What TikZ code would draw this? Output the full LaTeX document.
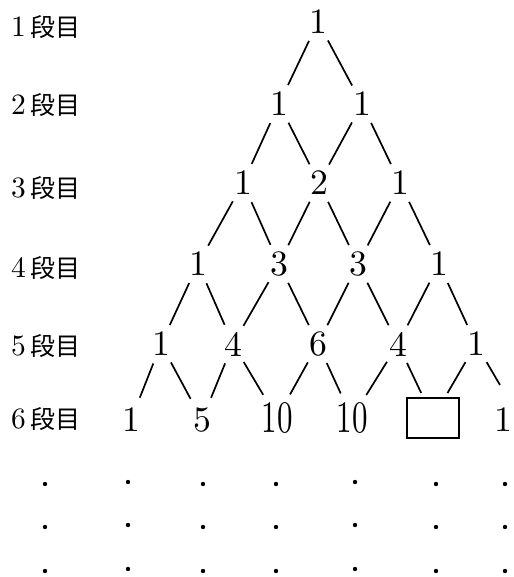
\documentclass[tikz,border=0pt]{standalone}
\usepackage{fontspec}
\newfontfamily\jpfont{Noto Sans CJK JP}
\newcommand{\bignumtext}[1]{\scalebox{3.57}{\fontsize{10}{10}\selectfont #1}}
\newcommand{\tennumtext}[1]{\scalebox{3.1}[4.5]{\fontsize{10}{10}\selectfont #1}}
\newcommand{\lbldigit}[1]{\scalebox{2.95}{\fontsize{10}{10}\selectfont #1}}
\begin{document}
\begin{tikzpicture}[x=1pt,y=-1pt,
  num/.style={circle,inner sep=0pt,outer sep=0pt,minimum size=42pt},
  lownum/.style={num,minimum size=48pt},
  bignum/.style={num,minimum size=54pt},
  ansbox/.style={draw,line width=1.6pt,rectangle,minimum width=52pt,minimum height=40pt,inner sep=0pt,outer sep=5pt},
  link/.style={line width=1.7pt},
  lbl/.style={anchor=base west,inner sep=0pt},
  dotmark/.style={fill=black}]
\useasboundingbox (0,0) rectangle (513,577);
% row labels
\foreach \n/\y in {1/37,2/115,3/197,4/277,5/355,6/428}{
  \node[lbl] (lab\n) at (11,\y) {\lbldigit{\n}\hspace{5pt}\jpfont\fontsize{25}{25}\selectfont 段目};
}
% numbers
\node[num] (r1) at (318,22) {\bignumtext{1}};
\node[num] (r2a) at (279,104) {\bignumtext{1}};
\node[num] (r2b) at (362,104) {\bignumtext{1}};
\node[num] (r3a) at (243,183) {\bignumtext{1}};
\node[num] (r3b) at (319,183) {\bignumtext{2}};
\node[num] (r3c) at (400,183) {\bignumtext{1}};
\node[num] (r4a) at (198,264) {\bignumtext{1}};
\node[num] (r4b) at (279,264) {\bignumtext{3}};
\node[num] (r4c) at (358,264) {\bignumtext{3}};
\node[num] (r4d) at (439,264) {\bignumtext{1}};
\node[num] (r5a) at (161,344) {\bignumtext{1}};
\node[num] (r5b) at (233,344) {\bignumtext{4}};
\node[num] (r5c) at (318,344) {\bignumtext{6}};
\node[num] (r5d) at (398,344) {\bignumtext{4}};
\node[num] (r5e) at (476,344) {\bignumtext{1}};
\node[lownum] (r6a) at (131,420) {\bignumtext{1}};
\node[lownum] (r6b) at (202,420) {\bignumtext{5}};
\node[bignum] (r6c) at (277,418) {\tennumtext{10}};
\node[bignum] (r6d) at (352,418) {\tennumtext{10}};
\node[ansbox] (r6e) at (433,418) {};
\node[lownum] (r6f) at (503,420) {\bignumtext{1}};
\coordinate (tail) at (500,385);
% connectors
\foreach \a/\b in {r1/r2a,r1/r2b,
  r2a/r3a,r2a/r3b,r2b/r3b,r2b/r3c,
  r3a/r4a,r3a/r4b,r3b/r4b,r3b/r4c,r3c/r4c,r3c/r4d,
  r4a/r5a,r4a/r5b,r4b/r5b,r4b/r5c,r4c/r5c,r4c/r5d,r4d/r5d,r4d/r5e,
  r5a/r6a,r5a/r6b,r5b/r6b,r5b/r6c,r5c/r6c,r5c/r6d,r5d/r6d,r5d/r6e,r5e/r6e}{
  \draw[link] (\a) -- (\b);
}
\draw[link] (r5e) -- (tail);
% continuation dots
\foreach \x/\dy in {45/0,128/-2,203/0,276/0,355/-2,436/0,505/0}{
  \foreach \y in {484,527,571}{
    \fill[dotmark] (\x,\y+\dy) circle (2.2pt);
  }
}
\end{tikzpicture}
\end{document}
